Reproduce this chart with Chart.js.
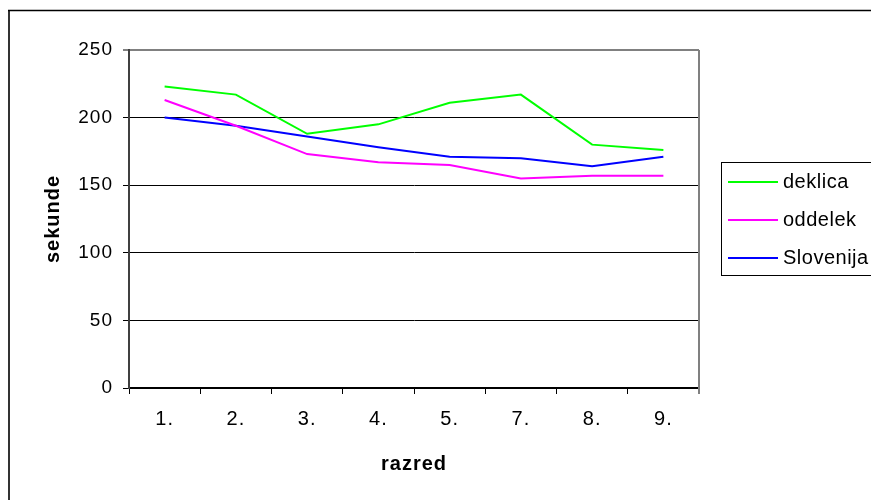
<!DOCTYPE html>
<html>
<head>
<meta charset="utf-8">
<script src="https://cdn.jsdelivr.net/npm/chart.js@4"></script>
<style>
  body { margin: 0; background: #fff; }
</style>
</head>
<body>
<canvas id="chart" width="871" height="500"></canvas>
<script>
var razredi = ['1.', '2.', '3.', '4.', '5.', '7.', '8.', '9.'];
var deklica = [223, 217, 188, 195, 211, 217, 180, 176];
var oddelek = [213, 194, 173, 167, 165, 155, 157, 157];
var slovenija = [200, 194, 186, 178, 171, 170, 164, 171];
var yTicks = [0, 50, 100, 150, 200, 250];

var FONT = 'Liberation Sans, Arial, sans-serif';

// outer frame, plot border and the boxed legend on the right
var excelLook = {
    id: 'excelLook',
    beforeUpdate: function (chart) { chart.ctx.letterSpacing = '1px'; },
    beforeDraw: function (chart) { chart.ctx.letterSpacing = '1px'; },
    afterDraw: function (chart) {
        var ctx = chart.ctx;
        var a = chart.chartArea;
        ctx.save();
        // frame round the whole chart
        ctx.strokeStyle = '#333';
        ctx.lineWidth = 2;
        ctx.beginPath();
        ctx.moveTo(9, 500);
        ctx.lineTo(9, 10.5);
        ctx.stroke();
        ctx.lineWidth = 1.5;
        ctx.strokeStyle = '#000';
        ctx.beginPath();
        ctx.moveTo(8, 10.5);
        ctx.lineTo(871, 10.5);
        ctx.stroke();
        // right side of plot area
        ctx.strokeStyle = '#808080';
        ctx.lineWidth = 2;
        ctx.beginPath();
        ctx.moveTo(a.right, a.top);
        ctx.lineTo(a.right, a.bottom + 6);
        ctx.stroke();
        // legend
        ctx.strokeStyle = '#000';
        ctx.lineWidth = 1;
        ctx.strokeRect(721.5, 162.5, 160, 113);
        ctx.font = '20px ' + FONT;
        ctx.letterSpacing = '0.5px';
        ctx.textBaseline = 'middle';
        ctx.fillStyle = '#000';
        chart.data.datasets.forEach(function (ds, i) {
            var y = 182 + i * 38;
            ctx.strokeStyle = ds.borderColor;
            ctx.lineWidth = 2;
            ctx.beginPath();
            ctx.moveTo(728, y);
            ctx.lineTo(778, y);
            ctx.stroke();
            ctx.fillText(ds.label, 783, y);
        });
        ctx.restore();
    }
};

var ctx = document.getElementById('chart');
new Chart(ctx, {
    type: 'line',
    data: {
        labels: razredi,
        datasets: [
            { label: 'deklica', data: deklica, borderColor: '#00ff00' },
            { label: 'oddelek', data: oddelek, borderColor: '#ff00ff' },
            { label: 'Slovenija', data: slovenija, borderColor: '#0000ff' }
        ]
    },
    options: {
        responsive: false,
        animation: false,
        events: [],
        layout: { padding: { left: 0, top: 50, right: 172, bottom: 0 } },
        elements: {
            line: { borderWidth: 2, tension: 0 },
            point: { radius: 0 }
        },
        plugins: {
            legend: { display: false },
            tooltip: { enabled: false }
        },
        scales: {
            x: {
                offset: true,
                afterFit: function (s) { s.height = 112; },
                grid: {
                    offset: true,
                    drawOnChartArea: false,
                    tickLength: 6,
                    color: '#000'
                },
                border: { color: '#000', width: 2 },
                ticks: { color: '#000', padding: 13, font: { family: FONT, size: 20 } },
                title: {
                    display: true,
                    text: 'razred',
                    color: '#000',
                    padding: { top: 0, bottom: 24 },
                    font: { family: FONT, size: 20, weight: 'bold' }
                }
            },
            y: {
                min: 0,
                max: 250,
                afterFit: function (s) { s.width = 129; },
                afterBuildTicks: function (s) {
                    s.ticks = yTicks.map(function (v) { return { value: v }; });
                },
                grid: {
                    tickLength: 6,
                    color: function (c) { return c.tick && c.tick.value === 250 ? '#808080' : '#000'; },
                    lineWidth: function (c) { return c.tick && c.tick.value === 250 ? 2 : 1; }
                },
                border: { color: '#404040', width: 2 },
                ticks: { color: '#000', padding: 10, font: { family: FONT, size: 19 } },
                title: {
                    display: true,
                    text: 'sekunde',
                    color: '#000',
                    padding: { top: 41, bottom: 0 },
                    font: { family: FONT, size: 20, weight: 'bold' }
                }
            }
        }
    },
    plugins: [excelLook]
});
</script>
</body>
</html>
